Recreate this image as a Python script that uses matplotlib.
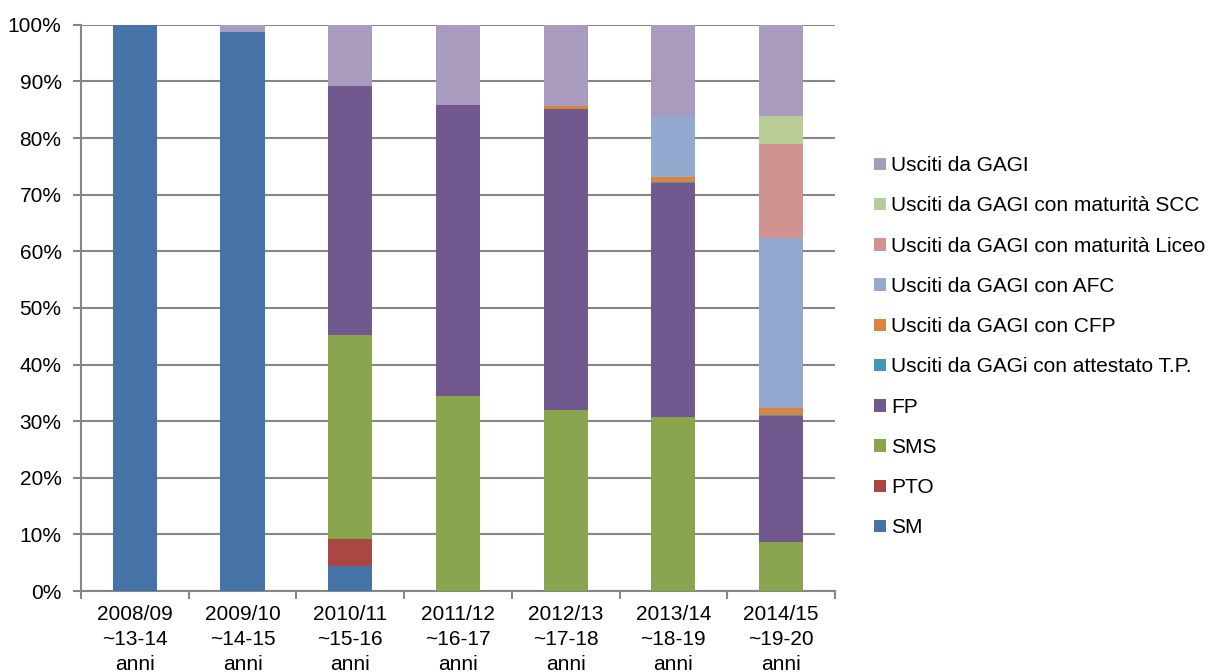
import numpy as np
import matplotlib.pyplot as plt
from matplotlib.patches import Patch

plt.rcParams['font.family'] = ['Liberation Sans', 'DejaVu Sans']

years = ['2008/09\n~13-14\nanni', '2009/10\n~14-15\nanni', '2010/11\n~15-16\nanni',
         '2011/12\n~16-17\nanni', '2012/13\n~17-18\nanni', '2013/14\n~18-19\nanni',
         '2014/15\n~19-20\nanni']

# values in percent, bottom to top
sm = [100.0, 98.7, 4.4, 0, 0, 0, 0]
pto = [0, 0, 4.8, 0, 0, 0, 0]
sms = [0, 0, 36.0, 34.5, 32.0, 30.7, 8.6]
fp = [0, 0, 44.0, 51.4, 53.1, 41.3, 22.3]
att_tp = [0, 0, 0, 0, 0, 0.3, 0.2]
cfp = [0, 0, 0, 0, 0.5, 0.8, 1.3]
afc = [0, 0, 0, 0, 0, 10.8, 30.0]
liceo = [0, 0, 0, 0, 0, 0, 16.5]
scc = [0, 0, 0, 0, 0, 0, 5.0]
usciti = [0, 1.3, 10.8, 14.1, 14.4, 16.1, 16.1]

series = [
    ('SM', sm, '#4572A7'),
    ('PTO', pto, '#AA4643'),
    ('SMS', sms, '#89A54E'),
    ('FP', fp, '#71588F'),
    ('Usciti da GAGi con attestato T.P.', att_tp, '#4198AF'),
    ('Usciti da GAGI con CFP', cfp, '#DB843D'),
    ('Usciti da GAGI con AFC', afc, '#93A9CF'),
    ('Usciti da GAGI con maturità Liceo', liceo, '#D19392'),
    ('Usciti da GAGI con maturità SCC', scc, '#B9CD96'),
    ('Usciti da GAGI', usciti, '#A99BBD'),
]

fig = plt.figure(figsize=(12.13, 6.72), dpi=100)
ax = fig.add_axes([0.0668, 0.1205, 0.6215, 0.8425])

x = np.arange(len(years))
bottom = np.zeros(len(years))
for name, vals, col in series:
    vals = np.array(vals, dtype=float)
    ax.bar(x, vals, width=0.41, bottom=bottom, color=col, label=name,
           edgecolor='none', zorder=3)
    bottom += vals

grid_col = '#868686'
ax.set_xlim(-0.5, len(years) - 0.5)
ax.set_ylim(0, 100)
ax.set_yticks(np.arange(0, 101, 10))
ax.set_yticklabels(['%d%%' % v for v in range(0, 101, 10)])
ax.yaxis.grid(True, color=grid_col, linewidth=1.5, zorder=0)
ax.set_axisbelow(True)

ax.set_xticks(x)
ax.set_xticklabels(years, linespacing=1.39)
ax.set_xticks(np.arange(-0.5, len(years)), minor=True)
ax.tick_params(axis='x', which='major', length=0, pad=10, labelsize=15)
ax.tick_params(axis='x', which='minor', length=6, width=1.5, color=grid_col)
ax.tick_params(axis='y', length=6, width=1.5, color=grid_col, labelsize=15, pad=8)

for s in ['top', 'right']:
    ax.spines[s].set_visible(False)
for s in ['left', 'bottom']:
    ax.spines[s].set_color(grid_col)
    ax.spines[s].set_linewidth(1.5)

handles = [Patch(facecolor=c, edgecolor='none', label=n) for n, v, c in series][::-1]
fig.legend(handles=handles, loc='upper left', bbox_to_anchor=(0.714, 0.78),
           frameon=False, fontsize=15, handlelength=0.55, handleheight=0.55,
           handletextpad=0.25, labelspacing=1.02, borderaxespad=0)

fig.savefig('out.png', dpi=100)
